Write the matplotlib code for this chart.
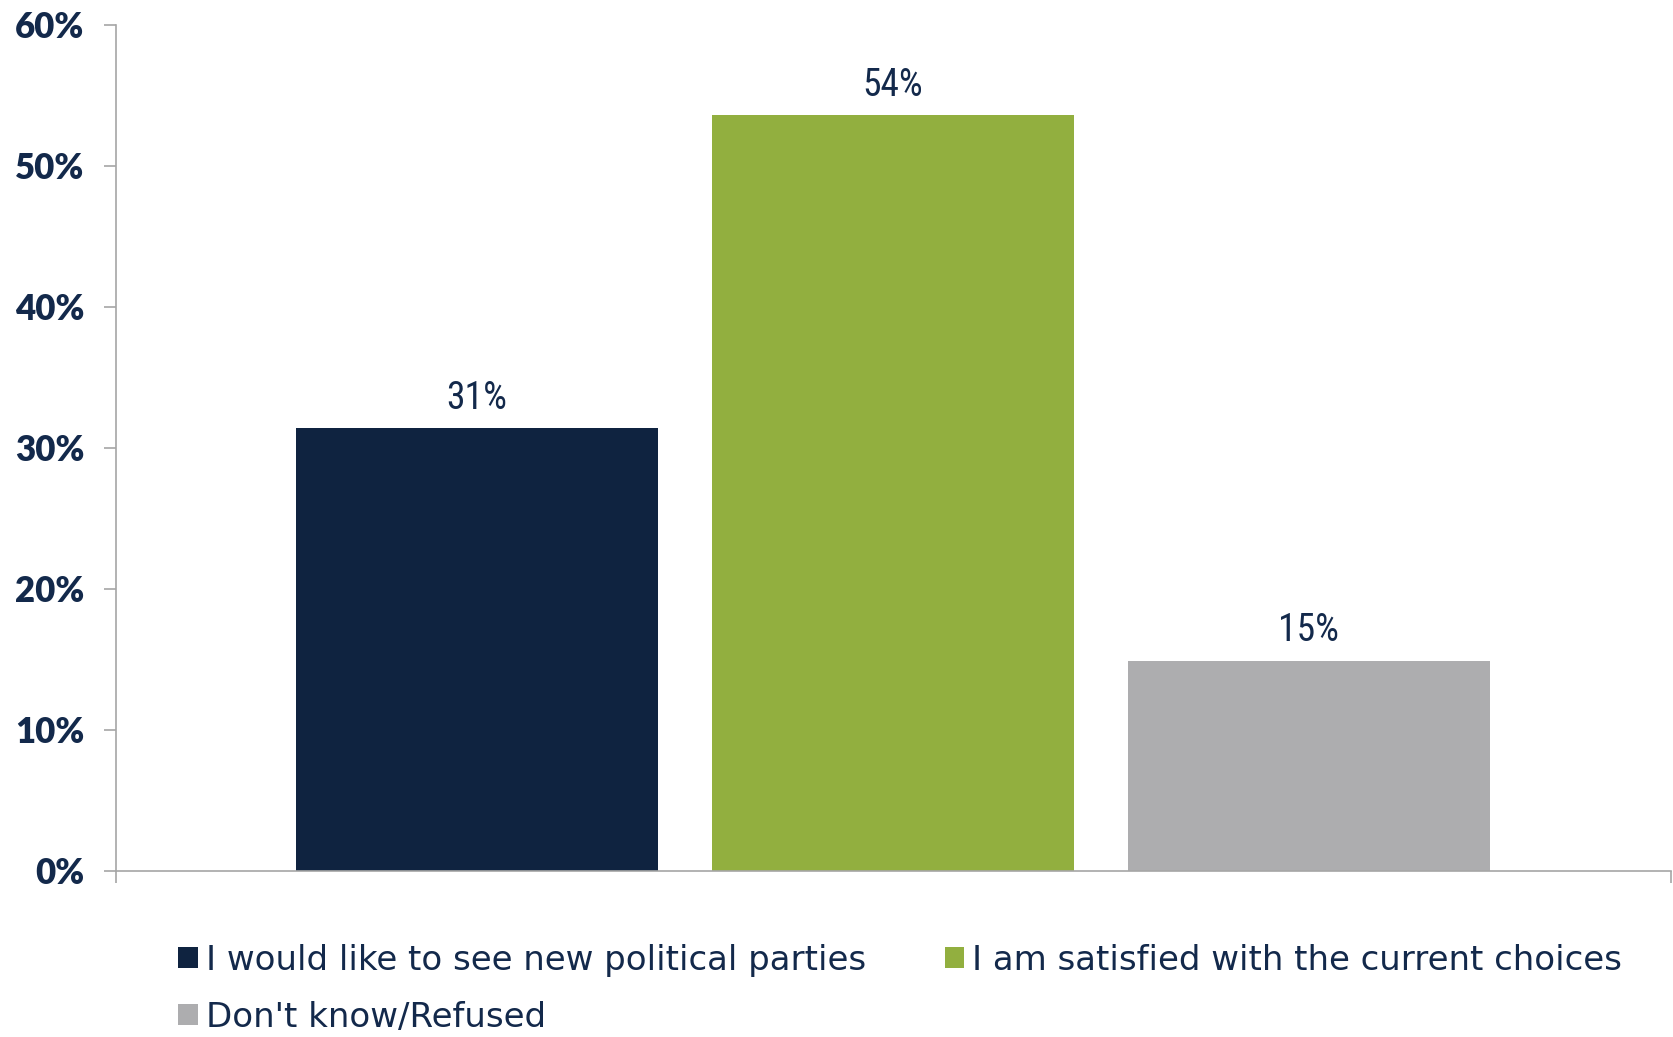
import matplotlib
matplotlib.use("Agg")
import matplotlib.pyplot as plt
from matplotlib import font_manager as fm
from matplotlib.patches import Patch
from matplotlib.ticker import FuncFormatter

categories = ["I would like to see new political parties",
              "I am satisfied with the current choices",
              "Don't know/Refused"]
values = [31.4, 53.6, 14.9]
labels = ["31%", "54%", "15%"]
colors = ["#0F2340", "#92AF3F", "#ADADAF"]
yticks = [0, 10, 20, 30, 40, 50, 60]

TEXT = "#13294B"
AX = "#A6A6A6"


def has_font(name):
    try:
        fm.findfont(fm.FontProperties(family=name), fallback_to_default=False)
        return True
    except Exception:
        return False


if has_font("Liberation Sans Narrow"):
    lab_family, lab_size = "Liberation Sans Narrow", 28
elif has_font("Roboto Condensed"):
    lab_family, lab_size = "Roboto Condensed", 27
else:
    lab_family, lab_size = "Lato", 23.5

fig = plt.figure(figsize=(16.74, 10.37), dpi=100)
ax = fig.add_axes([0.0691, 0.1604, 0.9291, 0.8158])

x = list(range(len(values)))
bars = ax.bar(x, values, width=0.87, color=colors)

for xi, v, lab in zip(x, values, labels):
    ax.annotate(lab, (xi, v), xytext=(0, 8), textcoords="offset points",
                ha="center", va="bottom", fontsize=lab_size, color=TEXT,
                family=lab_family)

ax.set_xlim(-0.868, 2.871)
ax.set_ylim(0, 60)
ax.set_yticks(yticks)
ax.yaxis.set_major_formatter(FuncFormatter(lambda v, p: f"{int(v)}%"))
for t in ax.get_yticklabels():
    t.set_fontfamily("Lato")
    t.set_fontweight("heavy")
    t.set_fontsize(25)
    t.set_color(TEXT)
ax.tick_params(axis="y", direction="out", length=8.5, width=1.2, color=AX, pad=14)
ax.set_xticks([-0.868, 2.871])
ax.set_xticklabels([])
ax.tick_params(axis="x", direction="out", length=8.5, width=1.2, color=AX)

for s in ["top", "right"]:
    ax.spines[s].set_visible(False)
for s in ["left", "bottom"]:
    ax.spines[s].set_color(AX)
    ax.spines[s].set_linewidth(1.2)

order = [0, 2, 1]
handles = [Patch(facecolor=colors[i], edgecolor="none") for i in order]
leg = fig.legend(handles, [categories[i] for i in order], ncol=2,
                 loc="upper left", bbox_to_anchor=(0.1065, 0.0899),
                 frameon=False, handlelength=0.57, handleheight=0.57,
                 handletextpad=0.25, columnspacing=2.3, labelspacing=0.70,
                 borderpad=0, borderaxespad=0,
                 prop={"family": "DejaVu Sans", "size": 24.5})
for t in leg.get_texts():
    t.set_color(TEXT)

fig.savefig("out.png", dpi=100, facecolor="white")
